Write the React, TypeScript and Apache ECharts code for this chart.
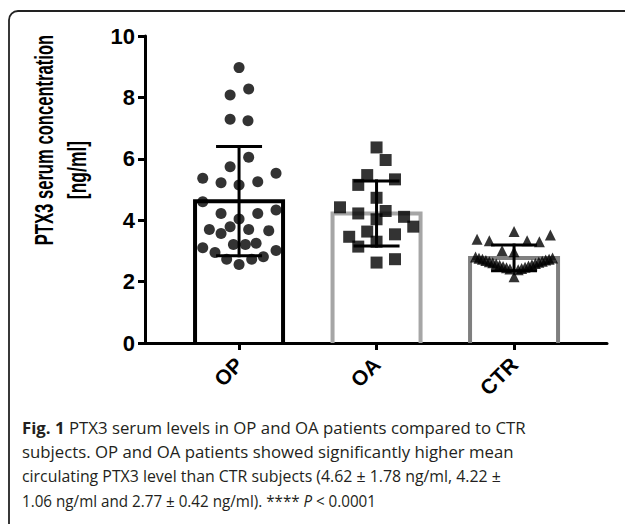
import React, { useEffect, useRef } from "react";
import * as echarts from "echarts";

// ---------- data ----------
const categories = ["OP", "OA", "CTR"];
const categoryPositions = [1, 2, 3];
const means = [4.62, 4.22, 2.77];
const sds = [1.78, 1.06, 0.42];
const barColors = ["#000000", "#a6a6a6", "#7f7f7f"];
const yMin = 0;
const yMax = 10;
const yInterval = 2;

const opValues = [8.97, 8.08, 8.27, 7.29, 7.24, 6.05, 5.74, 5.37, 5.22, 5.15, 5.25, 5.53, 4.6, 4.22, 4.22, 4.33, 4.04, 3.7, 3.57, 3.79, 3.7, 3.66, 3.1, 3.21, 3.21, 3.25, 2.95, 3.01, 2.73, 2.56, 2.73, 2.81];
const opOffsets = [0, -0.065, 0.07, -0.065, 0.065, 0.07, -0.065, -0.264, -0.131, 0, 0.136, 0.269, -0.264, -0.131, 0.136, 0.269, 0, -0.216, -0.131, -0.065, 0.07, 0.216, -0.264, -0.041, 0.046, 0.124, -0.175, 0.269, -0.09, 0, 0.092, 0.177];

const oaValues = [6.37, 5.96, 5.47, 5.15, 5.33, 4.73, 4.42, 4.22, 4.3, 4.03, 4.11, 3.79, 3.63, 3.46, 3.54, 3.3, 3.14, 2.62, 2.73];
const oaOffsets = [0, 0.066, -0.068, -0.133, 0.134, 0, -0.266, -0.133, 0.066, 0, 0.2, 0.267, -0.068, -0.199, 0.134, 0, -0.133, 0, 0.134];

const ctrValues = [3.63, 3.38, 3.33, 3.33, 3.3, 3.52, 3.01, 2.97, 2.16, 2.8, 2.76, 2.73, 2.69, 2.65, 2.61, 2.57, 2.53, 2.49, 2.45, 2.41, 2.39, 2.43, 2.47, 2.51, 2.55, 2.59, 2.63, 2.66, 2.7, 2.73, 2.77];
const ctrOffsets = [0, -0.269, -0.18, 0.095, 0.184, 0.264, -0.087, 0, 0, -0.28, -0.255, -0.23, -0.205, -0.18, -0.155, -0.13, -0.105, -0.08, -0.055, -0.03, 0.03, 0.055, 0.08, 0.105, 0.13, 0.155, 0.18, 0.205, 0.23, 0.255, 0.28];

const yTitleLines = ["PTX3 serum concentration", "[ng/ml]"];
const captionLines = [
  "{b|Fig. 1} PTX3 serum levels in OP and OA patients compared to CTR",
  "subjects. OP and OA patients showed significantly higher mean",
  "circulating PTX3 level than CTR subjects (4.62 ± 1.78 ng/ml, 4.22 ±",
  "1.06 ng/ml and 2.77 ± 0.42 ng/ml). **** {i|P} < 0.0001",
];
const captionLineScale = [1, 1, 0.945, 0.905];

const FONT = "'Liberation Sans', Arial, sans-serif";
const CAPTION_FONT = "'Open Sans', 'Noto Sans', sans-serif";
const CAPTION_SIZE = 16.8;

export default function App() {
  const ref = useRef<HTMLDivElement>(null);

  useEffect(() => {
    if (!ref.current) return;
    const chart = echarts.init(ref.current, undefined, { renderer: "svg" });

    const scatter = (values: number[], offsets: number[], pos: number) =>
      values.map((v, i) => [pos + offsets[i], v]);

    const captionGraphics = captionLines.map((line, i) => ({
      type: "text",
      x: 22,
      y: 419 + i * 24.4,
      scaleX: captionLineScale[i],
      style: {
        text: line,
        font: `${CAPTION_SIZE}px ${CAPTION_FONT}`,
        fill: "#231f20",
        textAlign: "left",
        textVerticalAlign: "top",
        rich: {
          b: { fontWeight: "bold", fontFamily: CAPTION_FONT, fontSize: CAPTION_SIZE, fill: "#231f20" },
          i: { fontStyle: "italic", fontFamily: CAPTION_FONT, fontSize: CAPTION_SIZE, fill: "#231f20" },
        },
      },
    }));

    const option: any = {
      animation: false,
      backgroundColor: "#ffffff",
      grid: { left: 145, right: 18, top: 36, bottom: 181, containLabel: false },
      xAxis: {
        type: "value",
        min: 0.316,
        max: 3.676,
        splitLine: { show: false },
        axisLine: { show: true, onZero: false, lineStyle: { color: "#000", width: 3 } },
        axisTick: { show: true, length: 7, lineStyle: { color: "#000", width: 3 }, customValues: categoryPositions },
        axisLabel: {
          customValues: categoryPositions,
          formatter: (v: number) => categories[Math.round(v) - 1] ?? "",
          rotate: 45,
          margin: 18,
          color: "#000",
          fontFamily: FONT,
          fontWeight: "bold",
          fontSize: 21,
        },
      },
      yAxis: {
        type: "value",
        min: yMin,
        max: yMax,
        interval: yInterval,
        splitLine: { show: false },
        axisLine: { show: true, lineStyle: { color: "#000", width: 3 } },
        axisTick: { show: true, length: 7, lineStyle: { color: "#000", width: 3 } },
        axisLabel: { margin: 10, color: "#000", fontFamily: FONT, fontWeight: "bold", fontSize: 22 },
      },
      series: [
        {
          type: "custom",
          name: "bars",
          z: 2,
          data: categoryPositions.map((p, i) => [p, means[i], i]),
          renderItem: (params: any, api: any) => {
            const x = api.value(0);
            const m = api.value(1);
            const idx = api.value(2);
            const top = api.coord([x, m]);
            const base = api.coord([x, 0]);
            const half = 44;
            return {
              type: "polyline",
              shape: {
                points: [
                  [top[0] - half, base[1]],
                  [top[0] - half, top[1]],
                  [top[0] + half, top[1]],
                  [top[0] + half, base[1]],
                ],
              },
              style: { stroke: barColors[idx], lineWidth: 4, fill: "none", lineJoin: "miter" },
            };
          },
        },
        {
          type: "scatter",
          name: "OP",
          z: 3,
          symbol: "circle",
          symbolSize: 11,
          itemStyle: { color: "#000" },
          data: scatter(opValues, opOffsets, categoryPositions[0]),
        },
        {
          type: "scatter",
          name: "OA",
          z: 3,
          symbol: "rect",
          symbolSize: 12,
          itemStyle: { color: "#000" },
          data: scatter(oaValues, oaOffsets, categoryPositions[1]),
        },
        {
          type: "scatter",
          name: "CTR",
          z: 3,
          symbol: "triangle",
          symbolSize: 11,
          itemStyle: { color: "#000" },
          data: scatter(ctrValues, ctrOffsets, categoryPositions[2]),
        },
        {
          type: "custom",
          name: "errors",
          z: 4,
          data: categoryPositions.map((p, i) => [p, means[i], sds[i]]),
          renderItem: (params: any, api: any) => {
            const x = api.value(0);
            const m = api.value(1);
            const s = api.value(2);
            const top = api.coord([x, m + s]);
            const bot = api.coord([x, m - s]);
            const half = 23;
            const style = { stroke: "#000", lineWidth: 3 };
            return {
              type: "group",
              children: [
                { type: "line", shape: { x1: top[0], y1: top[1] - 1.5, x2: bot[0], y2: bot[1] + 1.5 }, style },
                { type: "line", shape: { x1: top[0] - half, y1: top[1], x2: top[0] + half, y2: top[1] }, style },
                { type: "line", shape: { x1: bot[0] - half, y1: bot[1], x2: bot[0] + half, y2: bot[1] }, style },
              ],
            };
          },
        },
      ],
      graphic: [
        { type: "line", shape: { x1: 9, y1: 20, x2: 9, y2: 524 }, style: { stroke: "#222", lineWidth: 1.8 } },
        { type: "line", shape: { x1: 18, y1: 11, x2: 625, y2: 11 }, style: { stroke: "#222", lineWidth: 1.8 } },
        {
          type: "arc",
          shape: { cx: 18, cy: 20, r: 9, startAngle: Math.PI, endAngle: Math.PI * 1.5, clockwise: true },
          style: { stroke: "#222", lineWidth: 1.8, fill: "none" },
        },
        {
          type: "text",
          x: 44,
          y: 140,
          rotation: Math.PI / 2,
          scaleX: 0.665,
          style: {
            text: yTitleLines[0],
            font: `bold 25px ${FONT}`,
            fill: "#000",
            textAlign: "center",
            textVerticalAlign: "middle",
          },
        },
        {
          type: "text",
          x: 77,
          y: 170,
          rotation: Math.PI / 2,
          scaleX: 0.7,
          style: {
            text: yTitleLines[1],
            font: `bold 25px ${FONT}`,
            fill: "#000",
            textAlign: "center",
            textVerticalAlign: "middle",
          },
        },
        ...captionGraphics,
      ],
    };

    chart.setOption(option);
    return () => chart.dispose();
  }, []);

  return (
    <div
      ref={ref}
      style={{ position: "fixed", left: 0, top: 0, width: 625, height: 524, background: "#fff" }}
    />
  );
}
